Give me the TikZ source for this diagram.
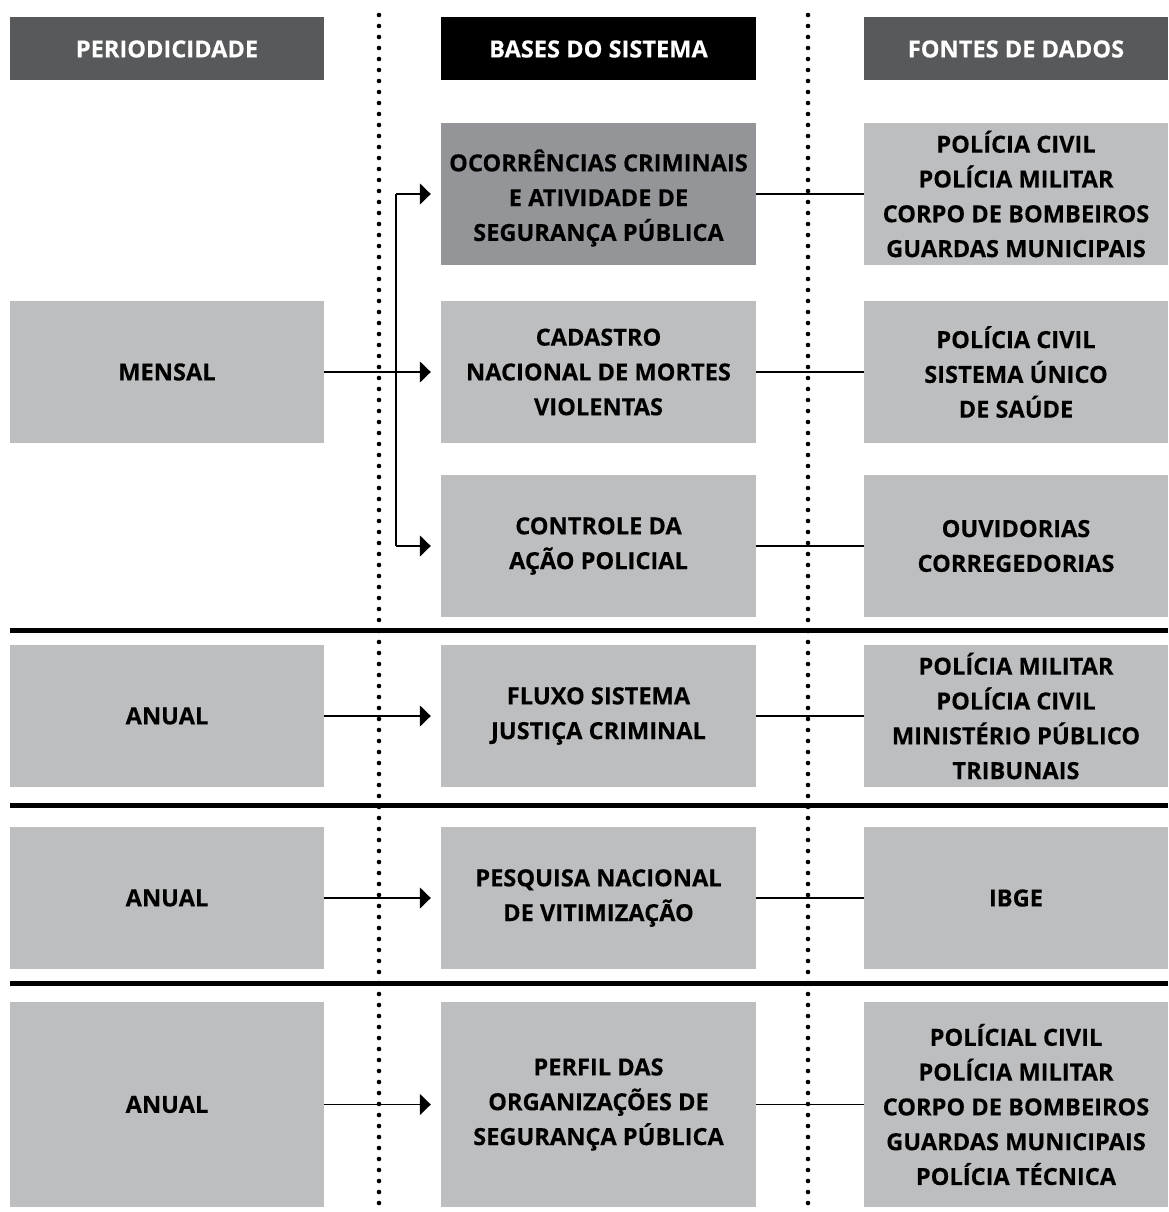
\documentclass[tikz,border=0pt]{standalone}
\usepackage{fontspec}
\setmainfont{Open Sans}[BoldFeatures={FakeBold=0.25}]
\usetikzlibrary{arrows.meta}
\definecolor{hdrgray}{HTML}{58595B}
\definecolor{boxgray}{HTML}{BCBEC0}
\definecolor{darkbox}{HTML}{939598}
\begin{document}
\begin{tikzpicture}[x=1pt,y=-1pt,
  txt/.style={font=\fontsize{23.6}{34.8}\selectfont\bfseries, align=center, inner sep=0pt, text=black},
  lbox/.style={txt, rectangle, fill=boxgray, minimum width=314pt},
  mbox/.style={txt, rectangle, fill=boxgray, minimum width=315pt},
  rbox/.style={txt, rectangle, fill=boxgray, minimum width=304pt},
  hdr/.style={minimum height=63pt, text=white},
  rowh/.style={minimum height=142pt},
  conn/.style={line width=1.5pt, draw=black},
  arr/.style={conn, -{Triangle[length=11pt,width=21pt]}, shorten >=10pt},
  sep/.style={line width=5pt, draw=black},
  dots/.style={line width=4.6pt, line cap=round, dash pattern=on 0pt off 11pt, draw=black}
]
\useasboundingbox (0,0) rectangle (1168,1212);

% dotted separators
\coordinate (d1t) at (379,15);
\coordinate (d1b) at (379,1207);
\coordinate (d2t) at (808,15);
\coordinate (d2b) at (808,1207);
\draw[dots] (d1t) -- (d1b);
\draw[dots] (d2t) -- (d2b);

% thick separators
\coordinate (s1l) at (10,630); \coordinate (s1r) at (1168,630);
\coordinate (s2l) at (10,805); \coordinate (s2r) at (1168,805);
\coordinate (s3l) at (10,983); \coordinate (s3r) at (1168,983);
\draw[sep] (s1l) -- (s1r);
\draw[sep] (s2l) -- (s2r);
\draw[sep] (s3l) -- (s3r);

% headers
\node[lbox, hdr, fill=hdrgray] (h1) at (167,49) {PERIODICIDADE};
\node[mbox, hdr, fill=black] (h2) at (598.5,49) {BASES DO SISTEMA};
\node[rbox, hdr, fill=hdrgray] (h3) at (1016,49) {FONTES DE DADOS};

% row 1-3 (mensal)
\node[mbox, rowh, fill=darkbox] (ocor) at (598.5,194) {};
\node[txt] (ocortxt) at (598.5,198) {OCORRÊNCIAS CRIMINAIS\\E ATIVIDADE DE\\SEGURANÇA PÚBLICA};
\node[rbox, rowh] (f1) at (1016,194) {POLÍCIA CIVIL\\POLÍCIA MILITAR\\CORPO DE BOMBEIROS\\GUARDAS MUNICIPAIS};

\node[lbox, rowh] (mensal) at (167,372) {MENSAL};
\node[mbox, rowh] (cad) at (598.5,372) {CADASTRO\\NACIONAL DE MORTES\\VIOLENTAS};
\node[rbox, rowh] (f2) at (1016,372) {POLÍCIA CIVIL\\SISTEMA ÚNICO\\DE SAÚDE};

\node[mbox, rowh] (ctrl) at (598.5,546) {CONTROLE DA\\AÇÃO POLICIAL};
\node[rbox, rowh] (f3) at (1016,546) {OUVIDORIAS\\CORREGEDORIAS};

% row 4
\node[lbox, rowh] (an1) at (167,716) {ANUAL};
\node[mbox, rowh] (fluxo) at (598.5,716) {FLUXO SISTEMA\\JUSTIÇA CRIMINAL};
\node[rbox, rowh] (f4) at (1016,716) {POLÍCIA MILITAR\\POLÍCIA CIVIL\\MINISTÉRIO PÚBLICO\\TRIBUNAIS};

% row 5
\node[lbox, rowh] (an2) at (167,898) {ANUAL};
\node[mbox, rowh] (pesq) at (598.5,898) {PESQUISA NACIONAL\\DE VITIMIZAÇÃO};
\node[rbox, rowh] (f5) at (1016,898) {IBGE};

% row 6
\node[lbox, minimum height=205pt] (an3) at (167,1104.5) {ANUAL};
\node[mbox, minimum height=205pt] (perf) at (598.5,1104.5) {PERFIL DAS\\ORGANIZAÇÕES DE\\SEGURANÇA PÚBLICA};
\node[rbox, minimum height=205pt] (f6) at (1016,1104.5) {POLÍCIAL CIVIL\\POLÍCIA MILITAR\\CORPO DE BOMBEIROS\\GUARDAS MUNICIPAIS\\POLÍCIA TÉCNICA};

% arrows
\coordinate (jtop) at (396,194);
\coordinate (jbot) at (396,546);
\draw[arr] (mensal.east) -- (cad.west);
\draw[conn] (jtop) -- (jbot);
\draw[arr] (jtop) -- (ocor.west);
\draw[arr] (jbot) -- (ctrl.west);
\draw[arr] (an1.east) -- (fluxo.west);
\draw[arr] (an2.east) -- (pesq.west);
\draw[arr] (an3.east) -- (perf.west);

% source links
\draw[conn] (ocor.east) -- (f1.west);
\draw[conn] (cad.east) -- (f2.west);
\draw[conn] (ctrl.east) -- (f3.west);
\draw[conn] (fluxo.east) -- (f4.west);
\draw[conn] (pesq.east) -- (f5.west);
\draw[conn] (perf.east) -- (f6.west);
\end{tikzpicture}
\end{document}
